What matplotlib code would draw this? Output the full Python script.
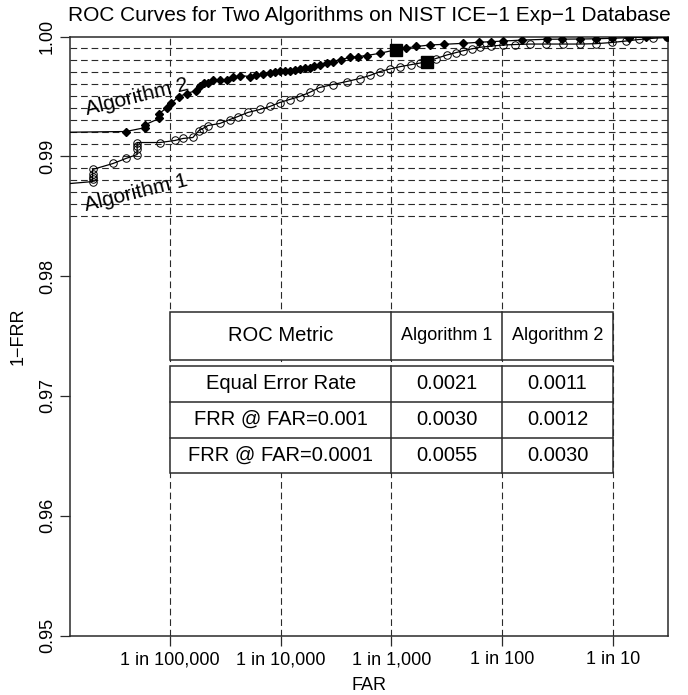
import numpy as np
import matplotlib
matplotlib.use('Agg')
import matplotlib.pyplot as plt
from matplotlib.patches import Rectangle

plt.rcParams['font.family'] = ['Liberation Sans', 'DejaVu Sans']

# ROC data (FAR, 1-FRR)
alg1_far = [1.0e-6, 2.0e-6, 2.0e-6, 2.0e-6, 2.0e-6, 2.0e-6, 3.06e-6, 4.0e-6,
            5.05e-6, 5.05e-6, 5.05e-6, 5.05e-6, 8.1e-6, 1.11e-5, 1.31e-5, 1.61e-5,
            1.82e-5, 1.98e-5, 2.2e-5, 2.82e-5, 3.47e-5, 4.1e-5, 5.05e-5, 6.5e-5,
            7.97e-5, 9.8e-5, 1.2e-4, 1.48e-4, 1.82e-4, 2.24e-4, 2.94e-4, 3.93e-4,
            5.15e-4, 6.4e-4, 7.8e-4, 9.6e-4, 1.19e-3, 1.5e-3, 1.8e-3, 2.1e-3,
            2.5e-3, 3.17e-3, 3.8e-3, 4.43e-3, 5.3e-3, 6.3e-3, 8.0e-3, 1.02e-2,
            1.3e-2, 1.78e-2, 2.5e-2, 3.54e-2, 5.04e-2, 7.0e-2, 9.8e-2, 0.13,
            0.171, 0.23, 0.31]
alg1_gar = [0.98765, 0.98789, 0.98810, 0.98831, 0.98856, 0.98890, 0.98940, 0.98982,
            0.99015, 0.99057, 0.99090, 0.99115, 0.99115, 0.99132, 0.99149, 0.99157,
            0.99215, 0.99232, 0.99257, 0.99274, 0.99307, 0.99332, 0.99366, 0.99391,
            0.99416, 0.99449, 0.99474, 0.99499, 0.99533, 0.99574, 0.99599, 0.99624,
            0.99649, 0.99675, 0.99706, 0.99728, 0.99748, 0.99765, 0.99778, 0.99790,
            0.99815, 0.99846, 0.99865, 0.99881, 0.99897, 0.99910, 0.99920, 0.99929,
            0.99933, 0.99937, 0.99937, 0.99937, 0.99937, 0.99940, 0.99950, 0.99962,
            0.99975, 0.99985, 0.99992]

alg2_far = [1.0e-6, 4.0e-6, 6.0e-6, 6.0e-6, 8.0e-6, 8.0e-6, 9.4e-6, 1.02e-5,
            1.2e-5, 1.42e-5, 1.71e-5, 1.86e-5, 2.02e-5, 2.2e-5, 2.44e-5, 2.82e-5,
            3.26e-5, 3.7e-5, 4.28e-5, 5.26e-5, 6.0e-5, 6.9e-5, 7.97e-5, 8.8e-5,
            9.8e-5, 1.1e-4, 1.2e-4, 1.35e-4, 1.48e-4, 1.65e-4, 1.82e-4, 2.0e-4,
            2.24e-4, 2.6e-4, 2.94e-4, 3.5e-4, 4.18e-4, 5.0e-4, 5.95e-4, 7.87e-4,
            1.1e-3, 1.35e-3, 1.68e-3, 2.23e-3, 3.0e-3, 4.43e-3, 6.2e-3, 8.0e-3,
            1.02e-2, 1.5e-2, 2.54e-2, 3.5e-2, 5.04e-2, 7.0e-2, 9.8e-2, 0.14,
            0.2, 0.31]
alg2_gar = [0.9920, 0.99207, 0.99240, 0.99265, 0.99316, 0.99357, 0.99407, 0.99441,
            0.99499, 0.99524, 0.99549, 0.99583, 0.99608, 0.99616, 0.99633, 0.99641,
            0.99633, 0.99658, 0.99674, 0.99666, 0.99675, 0.99683, 0.99699, 0.99702,
            0.99708, 0.99712, 0.99716, 0.99720, 0.99725, 0.99733, 0.99741, 0.99752,
            0.99766, 0.99780, 0.99791, 0.99808, 0.99825, 0.99833, 0.99841, 0.99860,
            0.99890, 0.99904, 0.99917, 0.99929, 0.99935, 0.99943, 0.99952, 0.99957,
            0.99962, 0.99970, 0.99977, 0.99978, 0.99979, 0.99981, 0.99985, 0.99990,
            0.99994, 0.99997]

eer = [0.0021, 0.0011]

# table contents
table_metrics = ['Equal Error Rate', 'FRR @ FAR=0.001', 'FRR @ FAR=0.0001']
table_alg1 = ['0.0021', '0.0030', '0.0055']
table_alg2 = ['0.0011', '0.0012', '0.0030']

xtick_vals = [1e-5, 1e-4, 1e-3, 1e-2, 1e-1]
xtick_labels = ['1 in 100,000', '1 in 10,000', '1 in 1,000', '1 in 100', '1 in 10']
ytick_vals = [0.95, 0.96, 0.97, 0.98, 0.99, 1.00]

dark = '#2a2a2a'
grid_ls = (0, (6, 3.5))

fig = plt.figure(figsize=(6.88, 6.95), dpi=100)
ax = fig.add_axes([70 / 688, 1 - 635.5 / 695, 598 / 688, 599 / 695])
ax.set_xscale('log')
ax.set_xlim(1.25e-6, 0.314)
ax.set_ylim(0.95, 1.0)

# grid
for xv in xtick_vals:
    ax.axvline(xv, color=dark, lw=0.8, ls=grid_ls, zorder=1)
for yv in np.arange(0.985, 0.9995, 0.001):
    ax.axhline(yv, color=dark, lw=0.8, ls=grid_ls, zorder=1)

# curves
ax.plot(alg1_far, alg1_gar, '-', color='black', lw=0.9, marker='o', ms=5.4,
        mfc='none', mec='black', mew=0.7, zorder=5)
ax.plot(alg2_far, alg2_gar, '-', color='black', lw=0.9, marker='D', ms=4.2,
        mfc='black', mec='black', zorder=6)
ax.plot(eer, 1 - np.array(eer), 's', color='black', ms=8.5, zorder=7)

ax.text(5.0e-6, 0.99495, 'Algorithm 2', fontsize=15, rotation=14,
        ha='center', va='center', zorder=8)
ax.text(4.9e-6, 0.98694, 'Algorithm 1', fontsize=15, rotation=14,
        ha='center', va='center', zorder=8)

# table
col_edges = [1e-5, 1e-3, 1e-2, 1e-1]
head_top, head_bot = 0.97703, 0.97300
body_rows = [0.97252, 0.96952, 0.96651, 0.96359]

ax.add_patch(Rectangle((col_edges[0], head_bot), col_edges[-1] - col_edges[0],
                       head_top - head_bot, facecolor='white', edgecolor=dark,
                       lw=1.1, zorder=3))
ax.add_patch(Rectangle((col_edges[0], body_rows[-1]), col_edges[-1] - col_edges[0],
                       body_rows[0] - body_rows[-1], facecolor='white', edgecolor=dark,
                       lw=1.1, zorder=3))
for cx in col_edges[1:-1]:
    ax.plot([cx, cx], [head_bot, head_top], color=dark, lw=1.1, zorder=4)
    ax.plot([cx, cx], [body_rows[-1], body_rows[0]], color=dark, lw=1.1, zorder=4)
for ry in body_rows[1:-1]:
    ax.plot([col_edges[0], col_edges[-1]], [ry, ry], color=dark, lw=1.1, zorder=4)

centers = [np.sqrt(col_edges[i] * col_edges[i + 1]) for i in range(3)]
hy = (head_top + head_bot) / 2
ax.text(centers[0], hy, 'ROC Metric', fontsize=14.5, ha='center', va='center', zorder=5)
ax.text(centers[1], hy, 'Algorithm 1', fontsize=13, ha='center', va='center', zorder=5)
ax.text(centers[2], hy, 'Algorithm 2', fontsize=13, ha='center', va='center', zorder=5)
for i in range(3):
    ry = (body_rows[i] + body_rows[i + 1]) / 2
    ax.text(centers[0], ry, table_metrics[i], fontsize=14.5, ha='center', va='center', zorder=5)
    ax.text(centers[1], ry, table_alg1[i], fontsize=14.5, ha='center', va='center', zorder=5)
    ax.text(centers[2], ry, table_alg2[i], fontsize=14.5, ha='center', va='center', zorder=5)

# axes styling
ax.set_xticks(xtick_vals)
ax.set_xticklabels(xtick_labels, fontsize=13)
ax.minorticks_off()
ax.set_yticks(ytick_vals)
ax.set_yticklabels(['%.2f' % v for v in ytick_vals], fontsize=13, rotation=90, va='center')
ax.tick_params(axis='both', direction='out', length=7, width=0.9, color=dark)
ax.tick_params(axis='x', pad=4.5)
ax.tick_params(axis='y', pad=3)
for s in ax.spines.values():
    s.set_color(dark)
    s.set_linewidth(1.1)

ax.set_xlabel('FAR', fontsize=13, labelpad=6)
ax.set_ylabel('1\u2212FRR', fontsize=13, labelpad=9)
ax.set_title('ROC Curves for Two Algorithms on NIST ICE\u22121 Exp\u22121 Database',
             fontsize=15, pad=11)

fig.savefig('out.png', dpi=100)
